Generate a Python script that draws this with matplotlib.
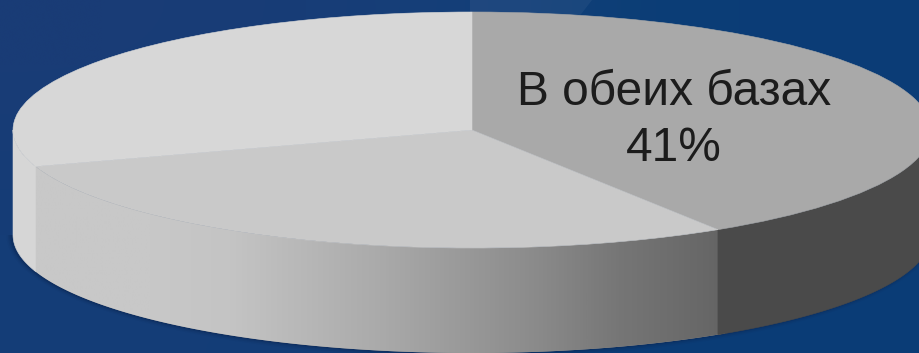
import numpy as np
import matplotlib
matplotlib.use("Agg")
import matplotlib.pyplot as plt
from matplotlib.colors import LinearSegmentedColormap
from matplotlib.patches import Polygon

plt.rcParams['font.family'] = ['Liberation Sans', 'DejaVu Sans']

# data
shares = [41, 29, 30]
label_main = "В обеих базах"
label_pct = "41%"
top_colors = ["#a9a9a9", "#c9c9c9", "#d7d7d7"]

# pie geometry in pixels
W, H = 920, 353
cx, cy, rx, ry = 472, 130, 459, 118
depth = 105 / ry

# side wall shades, left to right (pixel x, grey)
front_x = [28, 150, 230, 300, 380, 460, 540, 620, 728]
front_grey = ["#c8c8c8", "#c8c8c8", "#c4c4c4", "#b8b8b8", "#aaaaaa", "#9a9a9a", "#8a8a8a", "#767676", "#646464"]
left_wall = "#d6d6d6"
right_wall = "#4a4a4a"

# background colours, rough grid (rows top to bottom)
bg = np.array([
    [[26, 60, 118], [24, 60, 118], [22, 64, 122], [10, 62, 118], [12, 60, 118]],
    [[22, 60, 118], [22, 60, 118], [18, 60, 118], [10, 62, 120], [12, 60, 118]],
    [[20, 62, 120], [20, 62, 120], [18, 60, 118], [10, 60, 118], [10, 60, 118]],
]) / 255

fig = plt.figure(figsize=(W / 100, H / 100), dpi=100)
ax = fig.add_axes([0, 0, 1, 1])

xmin, xmax = (0 - cx) / rx, (W - cx) / rx
ymin, ymax = (cy - H) / ry, cy / ry
extent = (xmin, xmax, ymin, ymax)


def wall_poly(a0, a1):
    # angles clockwise from 12 o'clock, degrees
    t = np.radians(np.linspace(a0, a1, 200))
    xs = np.sin(t)
    ys = np.cos(t)
    top = np.column_stack([xs, ys])
    bot = np.column_stack([xs, ys - depth])[::-1]
    return np.vstack([top, bot])


def px(x, y):
    return (x - cx) / rx, (cy - y) / ry


wedges, _ = ax.pie(shares, colors=top_colors, startangle=90, counterclock=False, radius=1)
for w, c in zip(wedges, top_colors):
    w.set_edgecolor(c)
    w.set_linewidth(0.4)
    w.set_zorder(5)
ax.set_aspect("auto")
ax.axis("off")

ax.imshow(bg, extent=extent, aspect="auto", interpolation="bicubic", zorder=0)

# faint light streak at the top of the background
ax.add_patch(Polygon([px(470, 0), px(592, 0), px(575, 22), px(470, 22)], closed=True,
                     fc="white", ec="none", alpha=0.05, zorder=0.5))

# soft shadow under the disc
t = np.radians(np.linspace(90, 270, 300))
for grow, alpha in zip([5, 3.5, 2, 1], [0.06, 0.1, 0.14, 0.2]):
    sx = (rx + grow) / rx * np.sin(t) - 1.5 / rx
    sy = (ry + grow) / ry * np.cos(t) - depth
    ax.add_patch(Polygon(np.column_stack([sx, sy]), closed=True, fc="#0a1f45",
                         ec="none", alpha=alpha, zorder=1))

ang = np.cumsum(shares) * 3.6

# front wall with gradient, a little wider so the side walls cover its ends
pos = (np.array(front_x) - front_x[0]) / (front_x[-1] - front_x[0])
cmap = LinearSegmentedColormap.from_list("front", list(zip(pos, front_grey)))
clip = Polygon(wall_poly(ang[0] - 1, ang[1] + 0.5), closed=True, fc="#999999", ec="none",
               transform=ax.transData, zorder=2)
ax.add_patch(clip)
grad = ax.imshow(np.linspace(0, 1, 512).reshape(1, -1), cmap=cmap, aspect="auto", zorder=3,
                 extent=((front_x[0] - cx) / rx, (front_x[-1] - cx) / rx, ymin, ymax))
grad.set_clip_path(clip)

# right wall and the short wall on the left
ax.add_patch(Polygon(wall_poly(90, ang[0]), closed=True, fc=right_wall, ec=right_wall,
                     lw=0.4, zorder=4))
ax.add_patch(Polygon(wall_poly(ang[1], 270), closed=True, fc=left_wall, ec=left_wall,
                     lw=0.4, zorder=4))

ax.set_xlim(xmin, xmax)
ax.set_ylim(ymin, ymax)

ax.text((674 - cx) / rx, (cy - 105) / ry, label_main, ha="center", va="baseline",
        fontsize=34.5, color="#1c1c1c", zorder=6)
ax.text((674 - cx) / rx, (cy - 161) / ry, label_pct, ha="center", va="baseline",
        fontsize=34.5, color="#1c1c1c", zorder=6)

fig.savefig("out.png", dpi=100)
